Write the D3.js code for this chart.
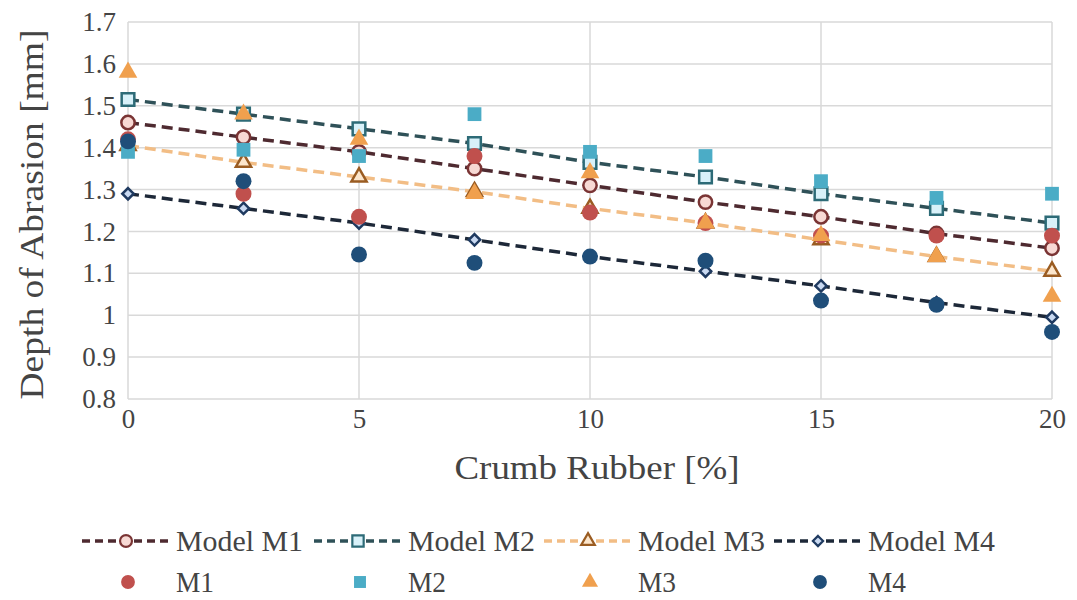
<!DOCTYPE html>
<html>
<head>
<meta charset="utf-8">
<script src="https://cdn.jsdelivr.net/npm/d3@7"></script>
<style>
  body { margin: 0; background: #fff; }
  text { font-family: "Liberation Serif", "Times New Roman", Times, "DejaVu Serif", serif !important; }
</style>
</head>
<body>
<svg id="chart" width="1077" height="600"></svg>
<script>
// crumb rubber content [%]
const crumb = [0, 2.5, 5, 7.5, 10, 12.5, 15, 17.5, 20];

// model predictions
const modelM1 = [1.46, 1.425, 1.39, 1.35, 1.31, 1.27, 1.235, 1.195, 1.16];
const modelM2 = [1.515, 1.48, 1.445, 1.41, 1.365, 1.33, 1.29, 1.255, 1.22];
const modelM3 = [1.405, 1.365, 1.33, 1.295, 1.255, 1.22, 1.18, 1.14, 1.105];
const modelM4 = [1.29, 1.255, 1.22, 1.18, 1.14, 1.105, 1.07, 1.03, 0.995];

// measured
const dataM1 = [1.42, 1.29, 1.235, 1.38, 1.245, 1.22, 1.19, 1.19, 1.19];
const dataM2 = [1.39, 1.395, 1.38, 1.48, 1.39, 1.38, 1.32, 1.28, 1.29];
const dataM3 = [1.58, 1.48, 1.42, 1.29, 1.34, 1.22, 1.19, 1.14, 1.045];
const dataM4 = [1.415, 1.32, 1.145, 1.125, 1.14, 1.13, 1.035, 1.025, 0.96];

const xTicks = [0, 5, 10, 15, 20];
const yTicks = [0.8, 0.9, 1, 1.1, 1.2, 1.3, 1.4, 1.5, 1.6, 1.7];

const diamond = {draw(ctx, size) { const r = Math.sqrt(size) / 2 * 1.2; ctx.moveTo(0, -r); ctx.lineTo(r, 0); ctx.lineTo(0, r); ctx.lineTo(-r, 0); ctx.closePath(); }};

const models = [
  {name: 'Model M1', values: modelM1, line: '#4e2a30', edge: '#7a3434', fill: '#f7d9d4', sym: d3.symbolCircle, size: 140},
  {name: 'Model M2', values: modelM2, line: '#2f5158', edge: '#2d6b77', fill: '#d8f1f9', sym: d3.symbolSquare, size: 160},
  {name: 'Model M3', values: modelM3, line: '#f2bd85', edge: '#9a5c22', fill: '#fce6cc', sym: d3.symbolTriangle, size: 100},
  {name: 'Model M4', values: modelM4, line: '#1d2838', edge: '#1f3a60', fill: '#c9d9f1', sym: diamond, size: 90}
];
const measured = [
  {name: 'M1', values: dataM1, color: '#c0504d', sym: d3.symbolCircle, size: 200},
  {name: 'M2', values: dataM2, color: '#4bacc6', sym: d3.symbolSquare, size: 190},
  {name: 'M3', values: dataM3, color: '#f0a04e', sym: d3.symbolTriangle, size: 150},
  {name: 'M4', values: dataM4, color: '#1f4e79', sym: d3.symbolCircle, size: 200}
];

const margin = {top: 22, right: 25, bottom: 201, left: 128};
const width = 1077, height = 600;
const svg = d3.select('#chart');

const x = d3.scaleLinear().domain([0, 20]).range([margin.left, width - margin.right]);
const y = d3.scaleLinear().domain([0.8, 1.7]).range([height - margin.bottom, margin.top]);

// grid
svg.append('g')
  .selectAll('line')
  .data(yTicks)
  .join('line')
    .attr('x1', x(0)).attr('x2', x(20))
    .attr('y1', d => y(d)).attr('y2', d => y(d))
    .attr('stroke', '#d9d9d9').attr('stroke-width', 1.5);
svg.append('g')
  .selectAll('line')
  .data(xTicks)
  .join('line')
    .attr('x1', d => x(d)).attr('x2', d => x(d))
    .attr('y1', y(0.8)).attr('y2', y(1.7))
    .attr('stroke', '#d9d9d9').attr('stroke-width', 1.5);

// axes (labels only)
const yAxis = svg.append('g')
  .attr('transform', `translate(${margin.left},0)`)
  .call(d3.axisLeft(y).tickValues(yTicks).tickFormat(d3.format('~g')).tickSize(0).tickPadding(12));
const xAxis = svg.append('g')
  .attr('transform', `translate(0,${y(0.8)})`)
  .call(d3.axisBottom(x).tickValues(xTicks).tickSize(0).tickPadding(10));
[xAxis, yAxis].forEach(a => {
  a.attr('font-family', null);
  a.select('.domain').remove();
  a.selectAll('text').attr('font-size', 27).attr('fill', '#444');
});

svg.append('text')
  .attr('transform', `translate(43,${(y(0.8) + y(1.7)) / 2 + 4}) rotate(-90)`)
  .attr('text-anchor', 'middle')
  .attr('font-size', 33).attr('fill', '#444')
  .attr('textLength', 370).attr('lengthAdjust', 'spacingAndGlyphs')
  .text('Depth of Abrasion [mm]');
svg.append('text')
  .attr('x', 597).attr('y', 479)
  .attr('text-anchor', 'middle')
  .attr('font-size', 33).attr('fill', '#444')
  .attr('textLength', 285).attr('lengthAdjust', 'spacingAndGlyphs')
  .text('Crumb Rubber [%]');

// model lines
const line = d3.line().x((d, i) => x(crumb[i])).y(d => y(d));
models.forEach(m => {
  svg.append('path')
    .datum(m.values)
    .attr('d', line)
    .attr('fill', 'none')
    .attr('stroke', m.line).attr('stroke-width', 3.5)
    .attr('stroke-dasharray', '11,6');
  svg.append('g')
    .selectAll('path')
    .data(m.values)
    .join('path')
      .attr('transform', (d, i) => `translate(${x(crumb[i])},${y(d)})`)
      .attr('d', d3.symbol().type(m.sym).size(m.size))
      .attr('fill', m.fill).attr('stroke', m.edge).attr('stroke-width', 2.5);
});

// measured points
measured.forEach(s => {
  svg.append('g')
    .selectAll('path')
    .data(s.values)
    .join('path')
      .attr('transform', (d, i) => `translate(${x(crumb[i])},${y(d)})`)
      .attr('d', d3.symbol().type(s.sym).size(s.size))
      .attr('fill', s.color);
});

// legend
const legX = [82, 314, 544, 774];
const leg = svg.append('g');
models.forEach((m, i) => {
  const g = leg.append('g').attr('transform', `translate(${legX[i]},541)`);
  g.append('line').attr('x1', 0).attr('x2', 88).attr('y1', 0).attr('y2', 0)
    .attr('stroke', m.line).attr('stroke-width', 3.5).attr('stroke-dasharray', '8,5');
  g.append('path').attr('transform', 'translate(44,0)')
    .attr('d', d3.symbol().type(m.sym).size(m.size * 0.8))
    .attr('fill', m.fill).attr('stroke', m.edge).attr('stroke-width', 2.2);
  g.append('text').attr('x', 94).attr('y', 10)
    .attr('font-size', 29).attr('fill', '#444')
    .attr('textLength', 127).attr('lengthAdjust', 'spacingAndGlyphs')
    .text(m.name);
});
measured.forEach((s, i) => {
  const g = leg.append('g').attr('transform', `translate(${legX[i]},582)`);
  g.append('path').attr('transform', 'translate(46,0)')
    .attr('d', d3.symbol().type(s.sym).size(s.size * 0.75))
    .attr('fill', s.color);
  g.append('text').attr('x', 94).attr('y', 10)
    .attr('font-size', 29).attr('fill', '#444')
    .attr('textLength', 38).attr('lengthAdjust', 'spacingAndGlyphs')
    .text(s.name);
});
</script>
</body>
</html>
